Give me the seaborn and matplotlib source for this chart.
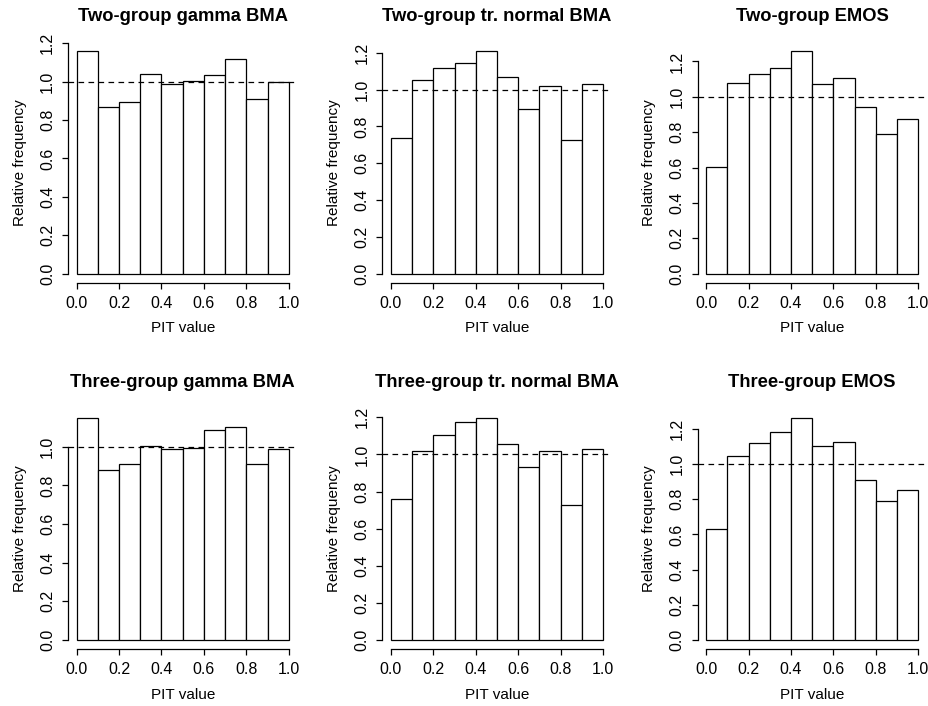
import numpy as np
import pandas as pd
import matplotlib
matplotlib.use("Agg")
import matplotlib.pyplot as plt
import seaborn as sns

sns.set_style("ticks")
plt.rcParams['font.family'] = ['Liberation Sans', 'DejaVu Sans']
plt.rcParams['text.color'] = 'black'
plt.rcParams['axes.labelcolor'] = 'black'
plt.rcParams['xtick.color'] = 'black'
plt.rcParams['ytick.color'] = 'black'

# PIT histogram data (relative frequency per bin)
bin_edges = [0.0, 0.1, 0.2, 0.3, 0.4, 0.5, 0.6, 0.7, 0.8, 0.9, 1.0]

titles = [
    "Two-group gamma BMA", "Two-group tr. normal BMA", "Two-group EMOS",
    "Three-group gamma BMA", "Three-group tr. normal BMA", "Three-group EMOS",
]

two_gamma_bma = [1.157, 0.870, 0.896, 1.042, 0.988, 1.004, 1.035, 1.117, 0.907, 0.997]
two_trnorm_bma = [0.737, 1.054, 1.117, 1.144, 1.207, 1.068, 0.896, 1.021, 0.728, 1.032]
two_emos = [0.605, 1.080, 1.132, 1.161, 1.257, 1.074, 1.104, 0.944, 0.789, 0.876]
three_gamma_bma = [1.150, 0.881, 0.912, 1.005, 0.990, 0.991, 1.085, 1.104, 0.908, 0.990]
three_trnorm_bma = [0.759, 1.020, 1.103, 1.173, 1.198, 1.056, 0.931, 1.020, 0.728, 1.027]
three_emos = [0.633, 1.045, 1.122, 1.179, 1.263, 1.100, 1.126, 0.910, 0.789, 0.851]

series = [two_gamma_bma, two_trnorm_bma, two_emos,
          three_gamma_bma, three_trnorm_bma, three_emos]

x_ticks = [0.0, 0.2, 0.4, 0.6, 0.8, 1.0]
x_tick_labels = ["0.0", "0.2", "0.4", "0.6", "0.8", "1.0"]
y_ticks_all = [0.0, 0.2, 0.4, 0.6, 0.8, 1.0, 1.2]

W, H = 929, 706
fig = plt.figure(figsize=(W / 100, H / 100), dpi=100)

lefts_px = [68.2, 382.5, 697.7]
axis_bottom_px = [282.7, 649.0]
plot_w_px = 229.0
plot_h_px = 240.2

FS = 11.5
FS_LAB = 11
mids = [(a + b) / 2 for a, b in zip(bin_edges[:-1], bin_edges[1:])]

for i, (title, vals) in enumerate(zip(titles, series)):
    r, c = divmod(i, 3)
    left = lefts_px[c] / W
    bottom = (H - axis_bottom_px[r]) / H
    ax = fig.add_axes([left, bottom, plot_w_px / W, plot_h_px / H])
    df = pd.DataFrame({"pit": mids, "freq": vals})
    sns.histplot(data=df, x="pit", weights="freq", bins=list(bin_edges),
                 stat="count", color="white", edgecolor="black",
                 linewidth=0.9, alpha=1.0, ax=ax)
    vmax = max(vals)
    ax.set_xlim(-0.04, 1.04)
    ax.set_ylim(-0.04 * vmax, 1.04 * vmax)
    ax.axhline(1.0, color="black", lw=0.9, ls=(0, (4.5, 3.5)), zorder=5)
    yt = [t for t in y_ticks_all if t <= 1.04 * vmax + 1e-9]
    ax.set_yticks(yt)
    ax.set_yticklabels([f"{t:.1f}" for t in yt])
    ax.set_xticks(x_ticks)
    ax.set_xticklabels(x_tick_labels)
    for s in ["top", "right"]:
        ax.spines[s].set_visible(False)
    ax.spines["left"].set_bounds(0.0, yt[-1])
    ax.spines["bottom"].set_bounds(0.0, 1.0)
    for s in ["left", "bottom"]:
        ax.spines[s].set_linewidth(0.9)
        ax.spines[s].set_color("black")
    ax.tick_params(axis="both", length=4.5, width=0.9, color="black",
                   labelsize=FS, labelcolor="black")
    ax.tick_params(axis="x", pad=5)
    ax.tick_params(axis="y", pad=5, labelrotation=90)
    for lab in ax.get_yticklabels():
        lab.set_va("center")
    ax.set_xlabel("PIT value", fontsize=FS_LAB, labelpad=7.5, color="black")
    ax.set_ylabel("Relative frequency", fontsize=FS_LAB, labelpad=9.5,
                  color="black")
    ax.set_title(title, fontsize=13.2, fontweight="bold", pad=15.5,
                 color="black")
    ax.set_facecolor("white")
    ax.grid(False)

fig.savefig("out.png", dpi=100, facecolor="white")
